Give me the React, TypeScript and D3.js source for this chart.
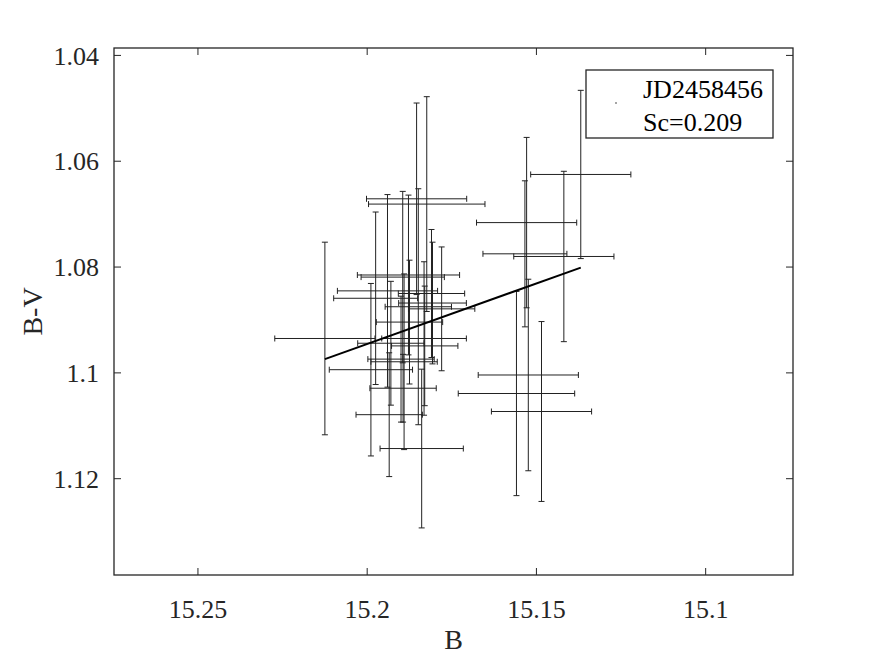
import React from "react";
import * as d3 from "d3";

// B magnitude (x), B-V colour (y) and their errors
const bMag = [15.1369, 15.1529, 15.1534, 15.1419, 15.1524, 15.1559, 15.1485,
  15.1854, 15.1824, 15.1878, 15.1895, 15.1940, 15.1810, 15.1975, 15.1807, 15.1849,
  15.1780, 15.1875, 15.2125, 15.1832, 15.1930, 15.1830, 15.1900, 15.1891, 15.1989,
  15.1894, 15.1935, 15.1839];
const bvCol = [1.0625, 1.0716, 1.0775, 1.0780, 1.1004, 1.1039, 1.1073,
  1.0671, 1.0681, 1.0815, 1.0819, 1.0845, 1.0850, 1.0859, 1.0868, 1.0875,
  1.0879, 1.0904, 1.0935, 1.0935, 1.0944, 1.0949, 1.0974, 1.0979, 1.0994,
  1.1029, 1.1079, 1.1143];
const bErr = [0.0148, 0.0148, 0.0124, 0.0148, 0.0148, 0.0172, 0.0148,
  0.0148, 0.0172, 0.0151, 0.0123, 0.0148, 0.0098, 0.0124, 0.0100, 0.0098,
  0.0098, 0.0098, 0.0148, 0.0125, 0.0098, 0.0098, 0.0098, 0.0098, 0.0123,
  0.0098, 0.0098, 0.0123];
const bvErr = [0.0159, 0.0161, 0.0138, 0.0161, 0.0181, 0.0193, 0.0170,
  0.0181, 0.0203, 0.0151, 0.0162, 0.0182, 0.0121, 0.0163, 0.0115, 0.0223,
  0.0117, 0.0117, 0.0182, 0.0145, 0.0117, 0.0113, 0.0119, 0.0166, 0.0163,
  0.0064, 0.0117, 0.0150];

// linear fit line end points
const fitB = [15.2125, 15.1369];
const fitBV = [1.0974, 1.0801];

const xTicks = [15.25, 15.2, 15.15, 15.1];
const xTickLabels = ["15.25", "15.2", "15.15", "15.1"];
const yTicks = [1.04, 1.06, 1.08, 1.1, 1.12];
const yTickLabels = ["1.04", "1.06", "1.08", "1.1", "1.12"];

const legendLines = ["JD2458456", "Sc=0.209"];

const W = 875, H = 656;
const L = 114, R = 793, T = 48, B = 575;
const FONT = "Liberation Serif, Times New Roman, serif";

export default function App() {
  const x = d3.scaleLinear().domain([15.2748, 15.0742]).range([L, R]);
  const y = d3.scaleLinear().domain([1.0386, 1.1382]).range([T, B]);
  const cap = 3;
  const tick = 7;
  const line = d3.line<number>().x((_, i) => x(fitB[i])).y((_, i) => y(fitBV[i]));

  return (
    <svg width={W} height={H} style={{ position: "absolute", left: 0, top: 0, background: "#fff" }}
      fontFamily={FONT}>
      <rect x={0} y={0} width={W} height={H} fill="#fff" />
      {/* error bars */}
      <g stroke="#222" strokeWidth={1} fill="none">
        {bMag.map((b, i) => {
          const cx = x(b), cy = y(bvCol[i]);
          const x0 = x(b + bErr[i]), x1 = x(b - bErr[i]);
          const y0 = y(bvCol[i] - bvErr[i]), y1 = y(bvCol[i] + bvErr[i]);
          return (
            <g key={i}>
              <line x1={cx} x2={cx} y1={y0} y2={y1} />
              <line x1={cx - cap} x2={cx + cap} y1={y0} y2={y0} />
              <line x1={cx - cap} x2={cx + cap} y1={y1} y2={y1} />
              <line x1={x0} x2={x1} y1={cy} y2={cy} />
              <line x1={x0} x2={x0} y1={cy - cap} y2={cy + cap} />
              <line x1={x1} x2={x1} y1={cy - cap} y2={cy + cap} />
            </g>
          );
        })}
      </g>
      {/* fit line */}
      <path d={line(fitB) || ""} stroke="#000" strokeWidth={2} fill="none" />
      {/* axes box */}
      <rect x={L} y={T} width={R - L} height={B - T} fill="none" stroke="#262626" strokeWidth={1.3} />
      <g stroke="#262626" strokeWidth={1}>
        {xTicks.map((t, i) => (
          <g key={i}>
            <line x1={x(t)} x2={x(t)} y1={B} y2={B - tick} />
            <line x1={x(t)} x2={x(t)} y1={T} y2={T + tick} />
          </g>
        ))}
        {yTicks.map((t, i) => (
          <g key={i}>
            <line x1={L} x2={L + tick} y1={y(t)} y2={y(t)} />
            <line x1={R} x2={R - tick} y1={y(t)} y2={y(t)} />
          </g>
        ))}
      </g>
      <g fontSize={26} fill="#262626">
        {xTicks.map((t, i) => (
          <text key={i} x={x(t)} y={B + 43} textAnchor="middle">{xTickLabels[i]}</text>
        ))}
        {yTicks.map((t, i) => (
          <text key={i} x={L - 15} y={y(t)} dy="0.35em" textAnchor="end">{yTickLabels[i]}</text>
        ))}
      </g>
      <text x={(L + R) / 2} y={B + 74} textAnchor="middle" fontSize={28} fill="#262626">B</text>
      <text transform={`translate(42,${(T + B) / 2}) rotate(-90)`} textAnchor="middle" fontSize={28} fill="#262626">B-V</text>
      {/* legend */}
      <rect x={586} y={70} width={187} height={68} fill="#fff" stroke="#262626" strokeWidth={1.3} />
      <circle cx={616} cy={103} r={0.8} fill="#333" />
      <text x={643} y={98} fontSize={26} fill="#000">{legendLines[0]}</text>
      <text x={643} y={131} fontSize={26} fill="#000">{legendLines[1]}</text>
    </svg>
  );
}
